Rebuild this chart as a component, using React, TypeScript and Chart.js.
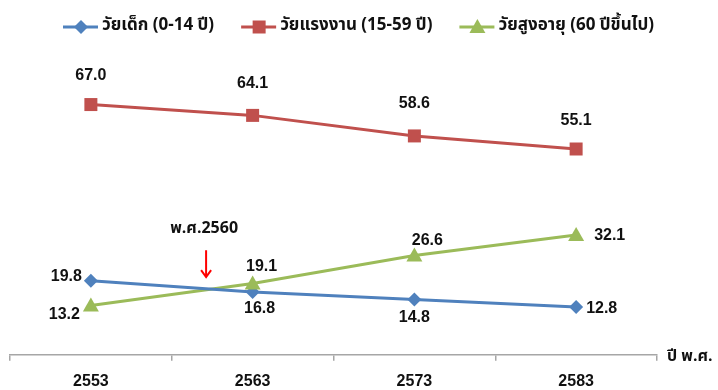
import React, { useEffect, useRef } from "react";
import { Chart, registerables } from "chart.js";

Chart.register(...registerables);

// Population share (%) by age group, Thai Buddhist-era years
const years = ["2553", "2563", "2573", "2583"];
const childShare = [19.8, 16.8, 14.8, 12.8];
const workingShare = [67.0, 64.1, 58.6, 55.1];
const elderlyShare = [13.2, 19.1, 26.6, 32.1];

const seriesNames = ["วัยเด็ก (0-14 ปี)", "วัยแรงงาน (15-59 ปี)", "วัยสูงอายุ (60 ปีขึ้นไป)"];
const crossoverLabel = "พ.ศ.2560";
const crossoverYearOffset = 0.7; // 2560 lies 7/10 of the way from 2553 to 2563
const xAxisTitle = "ปี พ.ศ.";

const BLUE = "#4F81BD";
const RED = "#C0504D";
const GREEN = "#9BBB59";

const FONT = '"Liberation Sans", Arial, "Noto Sans Thai", Tahoma, sans-serif';
const THAI_FONT = '"Noto Sans Thai", Tahoma, "Liberation Sans", sans-serif';

// Value label placement per point: [dx, dy, textAlign]
type Place = [number, number, CanvasTextAlign];
const childPlace: Place[] = [[-9, -4, "right"], [7, 17, "center"], [0, 18, "center"], [10, 2, "left"]];
const workingPlace: Place[] = [[0, -29, "center"], [0, -32, "center"], [0, -32, "center"], [0, -28, "center"]];
const elderlyPlace: Place[] = [[-11, 9, "right"], [9, -17, "center"], [13, -15, "center"], [18, 1, "left"]];
const placements = [childPlace, workingPlace, elderlyPlace];

function drawMarker(ctx: CanvasRenderingContext2D, style: string, x: number, y: number, color: string) {
  ctx.save();
  ctx.fillStyle = color;
  ctx.beginPath();
  if (style === "diamond") {
    const r = 7;
    ctx.moveTo(x, y - r);
    ctx.lineTo(x + r, y);
    ctx.lineTo(x, y + r);
    ctx.lineTo(x - r, y);
  } else if (style === "square") {
    const h = 6.5;
    ctx.rect(x - h, y - h, h * 2, h * 2);
  } else {
    const r = 8;
    ctx.moveTo(x, y - r);
    ctx.lineTo(x + r, y + r * 0.75);
    ctx.lineTo(x - r, y + r * 0.75);
  }
  ctx.closePath();
  ctx.fill();
  ctx.restore();
}

const markerStyles = ["diamond", "square", "triangle"];
const colors = [BLUE, RED, GREEN];

const annotationsPlugin = {
  id: "annotations",
  afterDatasetsDraw(chart: any) {
    const ctx: CanvasRenderingContext2D = chart.ctx;
    const x = chart.scales.x;
    const y = chart.scales.y;

    // markers on top of lines
    chart.data.datasets.forEach((ds: any, i: number) => {
      const meta = chart.getDatasetMeta(i);
      meta.data.forEach((pt: any) => drawMarker(ctx, markerStyles[i], pt.x, pt.y, colors[i]));
    });

    // value labels
    ctx.save();
    ctx.font = `bold 16px ${FONT}`;
    ctx.fillStyle = "#111";
    ctx.textBaseline = "middle";
    chart.data.datasets.forEach((ds: any, i: number) => {
      const meta = chart.getDatasetMeta(i);
      meta.data.forEach((pt: any, j: number) => {
        const [dx, dy, align] = placements[i][j];
        ctx.textAlign = align;
        ctx.fillText(Number(ds.data[j]).toFixed(1), pt.x + dx, pt.y + dy);
      });
    });
    ctx.restore();

    // crossover note with arrow
    const x0 = x.getPixelForValue(0);
    const x1 = x.getPixelForValue(1);
    const ax = x0 + (x1 - x0) * crossoverYearOffset;
    ctx.save();
    ctx.font = `bold 16px ${THAI_FONT}`;
    ctx.fillStyle = "#111";
    ctx.textAlign = "center";
    ctx.textBaseline = "middle";
    ctx.fillText(crossoverLabel, ax, y.getPixelForValue(33.5));
    const top = y.getPixelForValue(28);
    const tip = y.getPixelForValue(20.8);
    ctx.strokeStyle = "#FF0000";
    ctx.lineWidth = 2;
    ctx.beginPath();
    ctx.moveTo(ax + 2, top);
    ctx.lineTo(ax + 2, tip);
    ctx.moveTo(ax + 2 - 5, tip - 7);
    ctx.lineTo(ax + 2, tip);
    ctx.lineTo(ax + 2 + 5, tip - 7);
    ctx.stroke();
    ctx.restore();

    // axis title at the end of the x axis
    ctx.save();
    ctx.font = `bold 16px ${THAI_FONT}`;
    ctx.fillStyle = "#111";
    ctx.textAlign = "left";
    ctx.textBaseline = "middle";
    ctx.fillText(xAxisTitle, chart.chartArea.right + 10, chart.chartArea.bottom + 3);
    ctx.restore();

    // legend: line + marker + name
    ctx.save();
    ctx.font = `bold 17px ${THAI_FONT}`;
    ctx.textBaseline = "middle";
    ctx.textAlign = "left";
    const ly = 27;
    let lx = 63;
    seriesNames.forEach((name, i) => {
      ctx.strokeStyle = colors[i];
      ctx.lineWidth = 3;
      ctx.beginPath();
      ctx.moveTo(lx, ly);
      ctx.lineTo(lx + 35, ly);
      ctx.stroke();
      drawMarker(ctx, markerStyles[i], lx + 18, ly, colors[i]);
      ctx.fillStyle = "#111";
      ctx.fillText(name, lx + 39, ly);
      lx += 39 + ctx.measureText(name).width + 27;
    });
    ctx.restore();
  },
};

export default function App() {
  const ref = useRef<HTMLCanvasElement | null>(null);

  useEffect(() => {
    if (!ref.current) return;
    const mk = (label: string, data: number[], color: string) => ({
      label,
      data,
      borderColor: color,
      backgroundColor: color,
      borderWidth: 3,
      pointRadius: 0,
      tension: 0,
    });
    const chart = new Chart(ref.current, {
      type: "line",
      data: {
        labels: years,
        datasets: [
          mk(seriesNames[0], childShare, BLUE),
          mk(seriesNames[1], workingShare, RED),
          mk(seriesNames[2], elderlyShare, GREEN),
        ],
      },
      options: {
        animation: false,
        responsive: false,
        layout: { padding: { left: 10, right: 61, top: 56, bottom: -12 } },
        plugins: { legend: { display: false }, tooltip: { enabled: false } },
        scales: {
          x: {
            offset: true,
            grid: {
              display: true,
              offset: true,
              drawOnChartArea: false,
              drawTicks: true,
              tickLength: 6,
              color: "#A6A6A6",
              lineWidth: 1.5,
            },
            border: { display: true, color: "#A6A6A6", width: 1.5 },
            ticks: {
              color: "#111",
              padding: 11,
              font: { family: FONT, size: 16, weight: "bold" },
            },
          },
          y: { display: false, min: 0, max: 80 },
        },
      },
      plugins: [annotationsPlugin],
    });
    return () => chart.destroy();
  }, []);

  return (
    <div style={{ position: "absolute", left: 0, top: 0, width: 718, height: 390, background: "#fff" }}>
      <canvas ref={ref} width={718} height={390} style={{ width: 718, height: 390, display: "block" }} />
    </div>
  );
}
